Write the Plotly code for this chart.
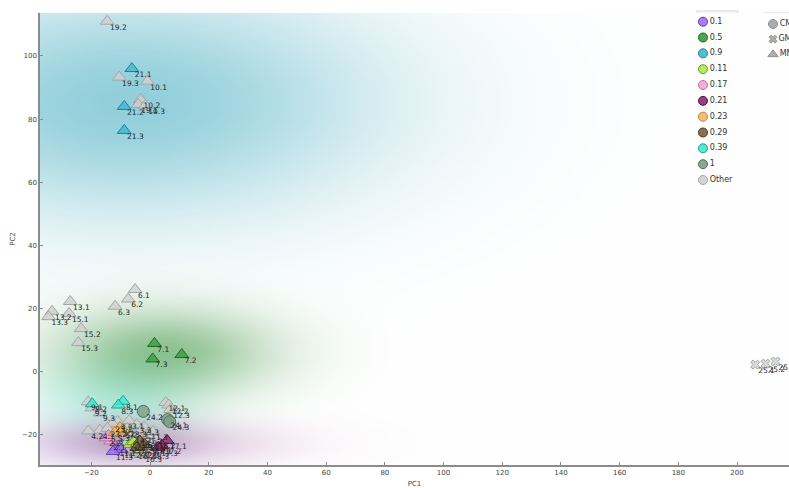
import base64
import struct
import zlib

import numpy as np
import plotly.graph_objects as go

# ---------------------------------------------------------------- data
sample_ids = [
    "19.2", "19.3", "10.1", "10.2", "19.1", "10.3",
    "13.1", "13.2", "13.3", "15.1", "15.2", "15.3",
    "6.1", "6.2", "6.3",
    "9.1", "9.2", "9.3", "12.1", "12.2", "12.3",
    "4.1", "4.2", "4.3", "3.1", "3.2", "3.3",
    "1.1", "1.2", "1.3", "14.1", "14.2", "14.3",
    "16.1", "16.2", "16.3", "18.1", "18.2", "18.3",
    "23.1", "23.2", "23.3",
    "25.1", "25.2", "25.3",
    "21.1", "21.2", "21.3",
    "7.1", "7.2", "7.3",
    "8.1", "8.2", "8.3",
    "24.1", "24.2", "24.3",
    "17.1", "17.2", "17.3",
    "11.1", "11.2", "11.3",
    "2.1", "2.2", "2.3",
    "5.1", "5.2", "5.3",
    "22.1", "22.2", "22.3",
    "20.1", "20.2", "20.3",
]
pc1 = [
    -14.6, -10.5, -0.9, -3.2, -4.0, -1.6,
    -27.2, -33.4, -34.6, -27.6, -23.5, -24.4,
    -5.1, -7.4, -11.9,
    -21.1, -19.8, -17.0, 5.3, 6.4, 6.9,
    -17.1, -21.0, -11.0, -7.1, -4.6, -2.0,
    -3.0, -0.8, 1.0, -6.0, -4.2, -1.2,
    -8.0, -5.0, -2.6, 0.8, 2.0, -0.2,
    -12.8, -14.5, -7.8,
    206.2, 209.7, 213.1,
    -6.2, -8.8, -8.8,
    1.5, 10.8, 0.9,
    -9.2, -19.7, -10.8,
    6.0, -2.3, 6.7,
    5.8, 4.0, 2.8,
    -11.5, -9.8, -12.6,
    -13.4, -15.0, -14.2,
    -10.3, -9.2, -12.0,
    -6.9, -3.6, -5.6,
    -3.5, -1.8, -4.5,
]
pc2 = [
    111.0, 93.3, 92.0, 86.2, 84.6, 84.3,
    22.2, 19.1, 17.4, 18.4, 13.6, 9.2,
    26.0, 23.0, 20.7,
    -9.6, -11.5, -13.1, -9.8, -10.6, -12.0,
    -18.6, -18.8, -15.8, -15.5, -16.8, -17.5,
    -18.6, -20.2, -19.0, -20.0, -21.0, -22.0,
    -22.5, -25.0, -26.0, -23.5, -21.5, -25.0,
    -16.5, -18.0, -18.0,
    2.2, 2.5, 3.2,
    96.0, 84.0, 76.4,
    8.9, 5.4, 4.0,
    -9.4, -10.2, -10.6,
    -15.2, -12.6, -15.9,
    -21.8, -23.4, -24.0,
    -24.0, -24.7, -25.3,
    -22.0, -21.0, -20.2,
    -17.7, -18.4, -19.3,
    -23.1, -24.8, -22.2,
    -22.0, -23.1, -24.0,
]
dose_group = (
    ["Other"] * 42 + ["Other"] * 3
    + ["0.9"] * 3 + ["0.5"] * 3 + ["0.39"] * 3 + ["1"] * 3
    + ["0.21"] * 3 + ["0.1"] * 3 + ["0.17"] * 3 + ["0.23"] * 3
    + ["0.11"] * 3 + ["0.29"] * 3
)
matrix_type = (
    ["MM"] * 42 + ["GM"] * 3
    + ["MM"] * 9 + ["CM"] * 3 + ["MM"] * 18
)

group_order = ["0.1", "0.5", "0.9", "0.11", "0.17", "0.21", "0.23",
               "0.29", "0.39", "1", "Other"]
type_order = ["CM", "GM", "MM"]

# ---------------------------------------------------------------- styles
fill = {
    "0.1": (160, 112, 240), "0.5": (60, 154, 60), "0.9": (64, 184, 208),
    "0.11": (176, 232, 80), "0.17": (244, 166, 215), "0.21": (138, 42, 112),
    "0.23": (245, 183, 106), "0.29": (122, 96, 64), "0.39": (64, 232, 208),
    "1": (127, 159, 138), "Other": (208, 208, 208),
}
edge = {
    "0.1": (96, 64, 176), "0.5": (31, 106, 31), "0.9": (32, 128, 144),
    "0.11": (112, 160, 32), "0.17": (192, 112, 160), "0.21": (80, 16, 64),
    "0.23": (192, 128, 48), "0.29": (74, 56, 32), "0.39": (32, 160, 144),
    "1": (80, 106, 90), "Other": (165, 165, 165),
}
symbol = {"CM": "circle", "GM": "x", "MM": "triangle-up"}

# smoothing kernel (sx, sy in data units), strength and tint of each group's shading
shade = {
    "0.9": (60.0, 24.0, 0.64, (76, 176, 196)),
    "0.5": (26.0, 9.5, 0.6, (70, 152, 70)),
    "0.39": (20.0, 9.0, 0.34, (95, 228, 210)),
    "0.1": (22.0, 5.0, 0.2, (165, 120, 230)),
    "0.17": (22.0, 5.0, 0.2, (240, 165, 210)),
    "0.21": (32.0, 5.0, 0.2, (150, 60, 130)),
    "0.23": (10.0, 4.0, 0.06, (245, 183, 106)),
    "0.29": (10.0, 4.0, 0.05, (122, 96, 64)),
    "0.11": (10.0, 4.0, 0.05, (176, 232, 80)),
    "1": (10.0, 5.0, 0.05, (127, 159, 138)),
}

X_RANGE = [-37.5, 217.7]
Y_RANGE = [-29.6, 113.6]


def rgba(c, a=1.0):
    return f"rgba({c[0]},{c[1]},{c[2]},{a})"


# ---------------------------------------------------------------- density shading
def shading_png(nx=420, ny=260):
    xs = np.linspace(X_RANGE[0], X_RANGE[1], nx)
    ys = np.linspace(Y_RANGE[1], Y_RANGE[0], ny)
    gx, gy = np.meshgrid(xs, ys)
    p1 = np.array(pc1)
    p2 = np.array(pc2)
    grp = np.array(dose_group)
    alphas = {}
    for g, (sx, sy, amp, _) in shade.items():
        idx = np.where(grp == g)[0]
        d = np.zeros_like(gx)
        for i in idx:
            d += np.exp(-((gx - p1[i]) ** 2) / (2 * sx * sx)
                        - ((gy - p2[i]) ** 2) / (2 * sy * sy))
        alphas[g] = amp * d / len(idx)
    total = sum(alphas.values())
    scale = np.where(total > 0.85, 0.85 / np.maximum(total, 1e-9), 1.0)
    img = np.full(gx.shape + (3,), 255.0) * (1 - total * scale)[..., None]
    for g, a in alphas.items():
        img += (a * scale)[..., None] * np.array(shade[g][3], dtype=float)
    img = np.clip(img, 0, 255).astype(np.uint8)

    raw = b"".join(b"\x00" + img[r].tobytes() for r in range(img.shape[0]))

    def chunk(tag, data):
        body = tag + data
        return (struct.pack(">I", len(data)) + body
                + struct.pack(">I", zlib.crc32(body) & 0xFFFFFFFF))

    png = (b"\x89PNG\r\n\x1a\n"
           + chunk(b"IHDR", struct.pack(">IIBBBBB", nx, ny, 8, 2, 0, 0, 0))
           + chunk(b"IDAT", zlib.compress(raw, 9))
           + chunk(b"IEND", b""))
    return "data:image/png;base64," + base64.b64encode(png).decode()


fig = go.Figure()

# ---------------------------------------------------------------- scatter points
for g in ["Other"] + [k for k in group_order if k != "Other"]:
    for t in type_order:
        idx = [i for i in range(len(sample_ids))
               if dose_group[i] == g and matrix_type[i] == t]
        if not idx:
            continue
        fig.add_trace(go.Scatter(
            x=[pc1[i] for i in idx],
            y=[pc2[i] for i in idx],
            mode="markers",
            marker=dict(
                symbol=symbol[t],
                size=12 if t != "GM" else 8,
                color=rgba(fill[g], 0.8),
                line=dict(color=rgba(edge[g]), width=1),
            ),
            text=[sample_ids[i] for i in idx],
            showlegend=False,
            hoverinfo="text",
        ))

# sample labels sit just below-right of each point, above all markers
fig.add_trace(go.Scatter(
    x=pc1, y=pc2, text=sample_ids,
    mode="markers+text",
    textposition="bottom right",
    textfont=dict(family="DejaVu Sans", size=7.5, color="#262626"),
    marker=dict(size=3, opacity=0),
    showlegend=False, hoverinfo="skip",
))

W, H = 789, 488
ML, MR, MT, MB = 40, 0, 13, 23
PW, PH = W - ML - MR, H - MT - MB


def px_x(p):
    return min(1.0, max(0.0, (p - ML) / PW))


def px_y(p):
    return min(1.0, max(0.0, (H - MB - p) / PH))


# ---------------------------------------------------------------- legend: dose groups
n = len(group_order)
ROW = 15.83            # pixel pitch of the legend rows
FIRST = 21.7           # pixel row of the first legend entry
fig.add_trace(go.Scatter(
    x=[5] * n, y=list(range(n)),
    text=group_order,
    mode="markers+text",
    textposition="middle right",
    textfont=dict(family="DejaVu Sans", size=8, color="#333333"),
    marker=dict(symbol="circle", size=9,
                color=[rgba(fill[g], 0.9) for g in group_order],
                line=dict(color=[rgba(edge[g]) for g in group_order], width=1)),
    cliponaxis=False, showlegend=False, hoverinfo="skip",
    xaxis="x2", yaxis="y2",
))

# ---------------------------------------------------------------- legend: matrix type
ROW2 = 15.2
FIRST2 = 24.0
fig.add_trace(go.Scatter(
    x=[6] * len(type_order), y=list(range(len(type_order))),
    text=type_order,
    mode="markers+text",
    textposition="middle right",
    textfont=dict(family="DejaVu Sans", size=8, color="#333333"),
    marker=dict(symbol=[symbol[t] for t in type_order], size=[9, 7, 9],
                color="rgba(128,128,128,0.9)",
                line=dict(color="rgb(100,100,100)", width=1)),
    cliponaxis=False, showlegend=False, hoverinfo="skip",
    xaxis="x3", yaxis="y3",
))

box_style = dict(type="rect", xref="paper", yref="paper", layer="below",
                 line=dict(color="#d6d6d6", width=1),
                 fillcolor="rgba(250,250,250,0.9)")

y2_top_px, y2_bot_px = MT, 190.0
y3_top_px, y3_bot_px = 16.4, 62.0
fig.update_layout(
    width=W, height=H,
    margin=dict(l=ML, r=MR, t=MT, b=MB, autoexpand=False),
    paper_bgcolor="white",
    plot_bgcolor="rgba(0,0,0,0)",
    font=dict(family="DejaVu Sans", size=7, color="#444444"),
    xaxis=dict(
        range=X_RANGE, showgrid=False, zeroline=False,
        showline=True, linecolor="#8c8c8c", linewidth=1.5,
        ticks="inside", ticklen=3, tickcolor="#8c8c8c",
        dtick=20, tickfont=dict(size=7, color="#444444"),
        title=dict(text="PC1", font=dict(size=7, color="#444444"), standoff=6),
    ),
    yaxis=dict(
        range=Y_RANGE, showgrid=False, zeroline=False,
        showline=True, linecolor="#8c8c8c", linewidth=1.5,
        ticks="inside", ticklen=3, tickcolor="#8c8c8c",
        dtick=20, tickfont=dict(size=7, color="#444444"),
        title=dict(text="PC2", font=dict(size=7, color="#444444"), standoff=6),
    ),
    xaxis2=dict(domain=[px_x(698), px_x(738)], range=[0, 40],
                visible=False, fixedrange=True, anchor="y2"),
    yaxis2=dict(domain=[px_y(y2_bot_px), px_y(y2_top_px)],
                range=[(y2_bot_px - FIRST) / ROW, (y2_top_px - FIRST) / ROW],
                visible=False, fixedrange=True, anchor="x2"),
    xaxis3=dict(domain=[px_x(767), px_x(789)], range=[0, 22],
                visible=False, fixedrange=True, anchor="y3"),
    yaxis3=dict(domain=[px_y(y3_bot_px), px_y(y3_top_px)],
                range=[(y3_bot_px - FIRST2) / ROW2, (y3_top_px - FIRST2) / ROW2],
                visible=False, fixedrange=True, anchor="x3"),
    images=[dict(
        source=shading_png(), xref="x", yref="y",
        x=X_RANGE[0], y=Y_RANGE[1],
        sizex=X_RANGE[1] - X_RANGE[0], sizey=Y_RANGE[1] - Y_RANGE[0],
        xanchor="left", yanchor="top", sizing="stretch", layer="below",
    )],
    shapes=[
        dict(box_style, x0=(697 - ML) / PW, x1=(738 - ML) / PW,
             y0=(H - MB - 190) / PH, y1=(H - MB - 11) / PH),
        dict(box_style, x0=(763 - ML) / PW, x1=(830 - ML) / PW,
             y0=(H - MB - 67) / PH, y1=(H - MB - 13) / PH),
    ],
)

fig.write_html("out.html")
